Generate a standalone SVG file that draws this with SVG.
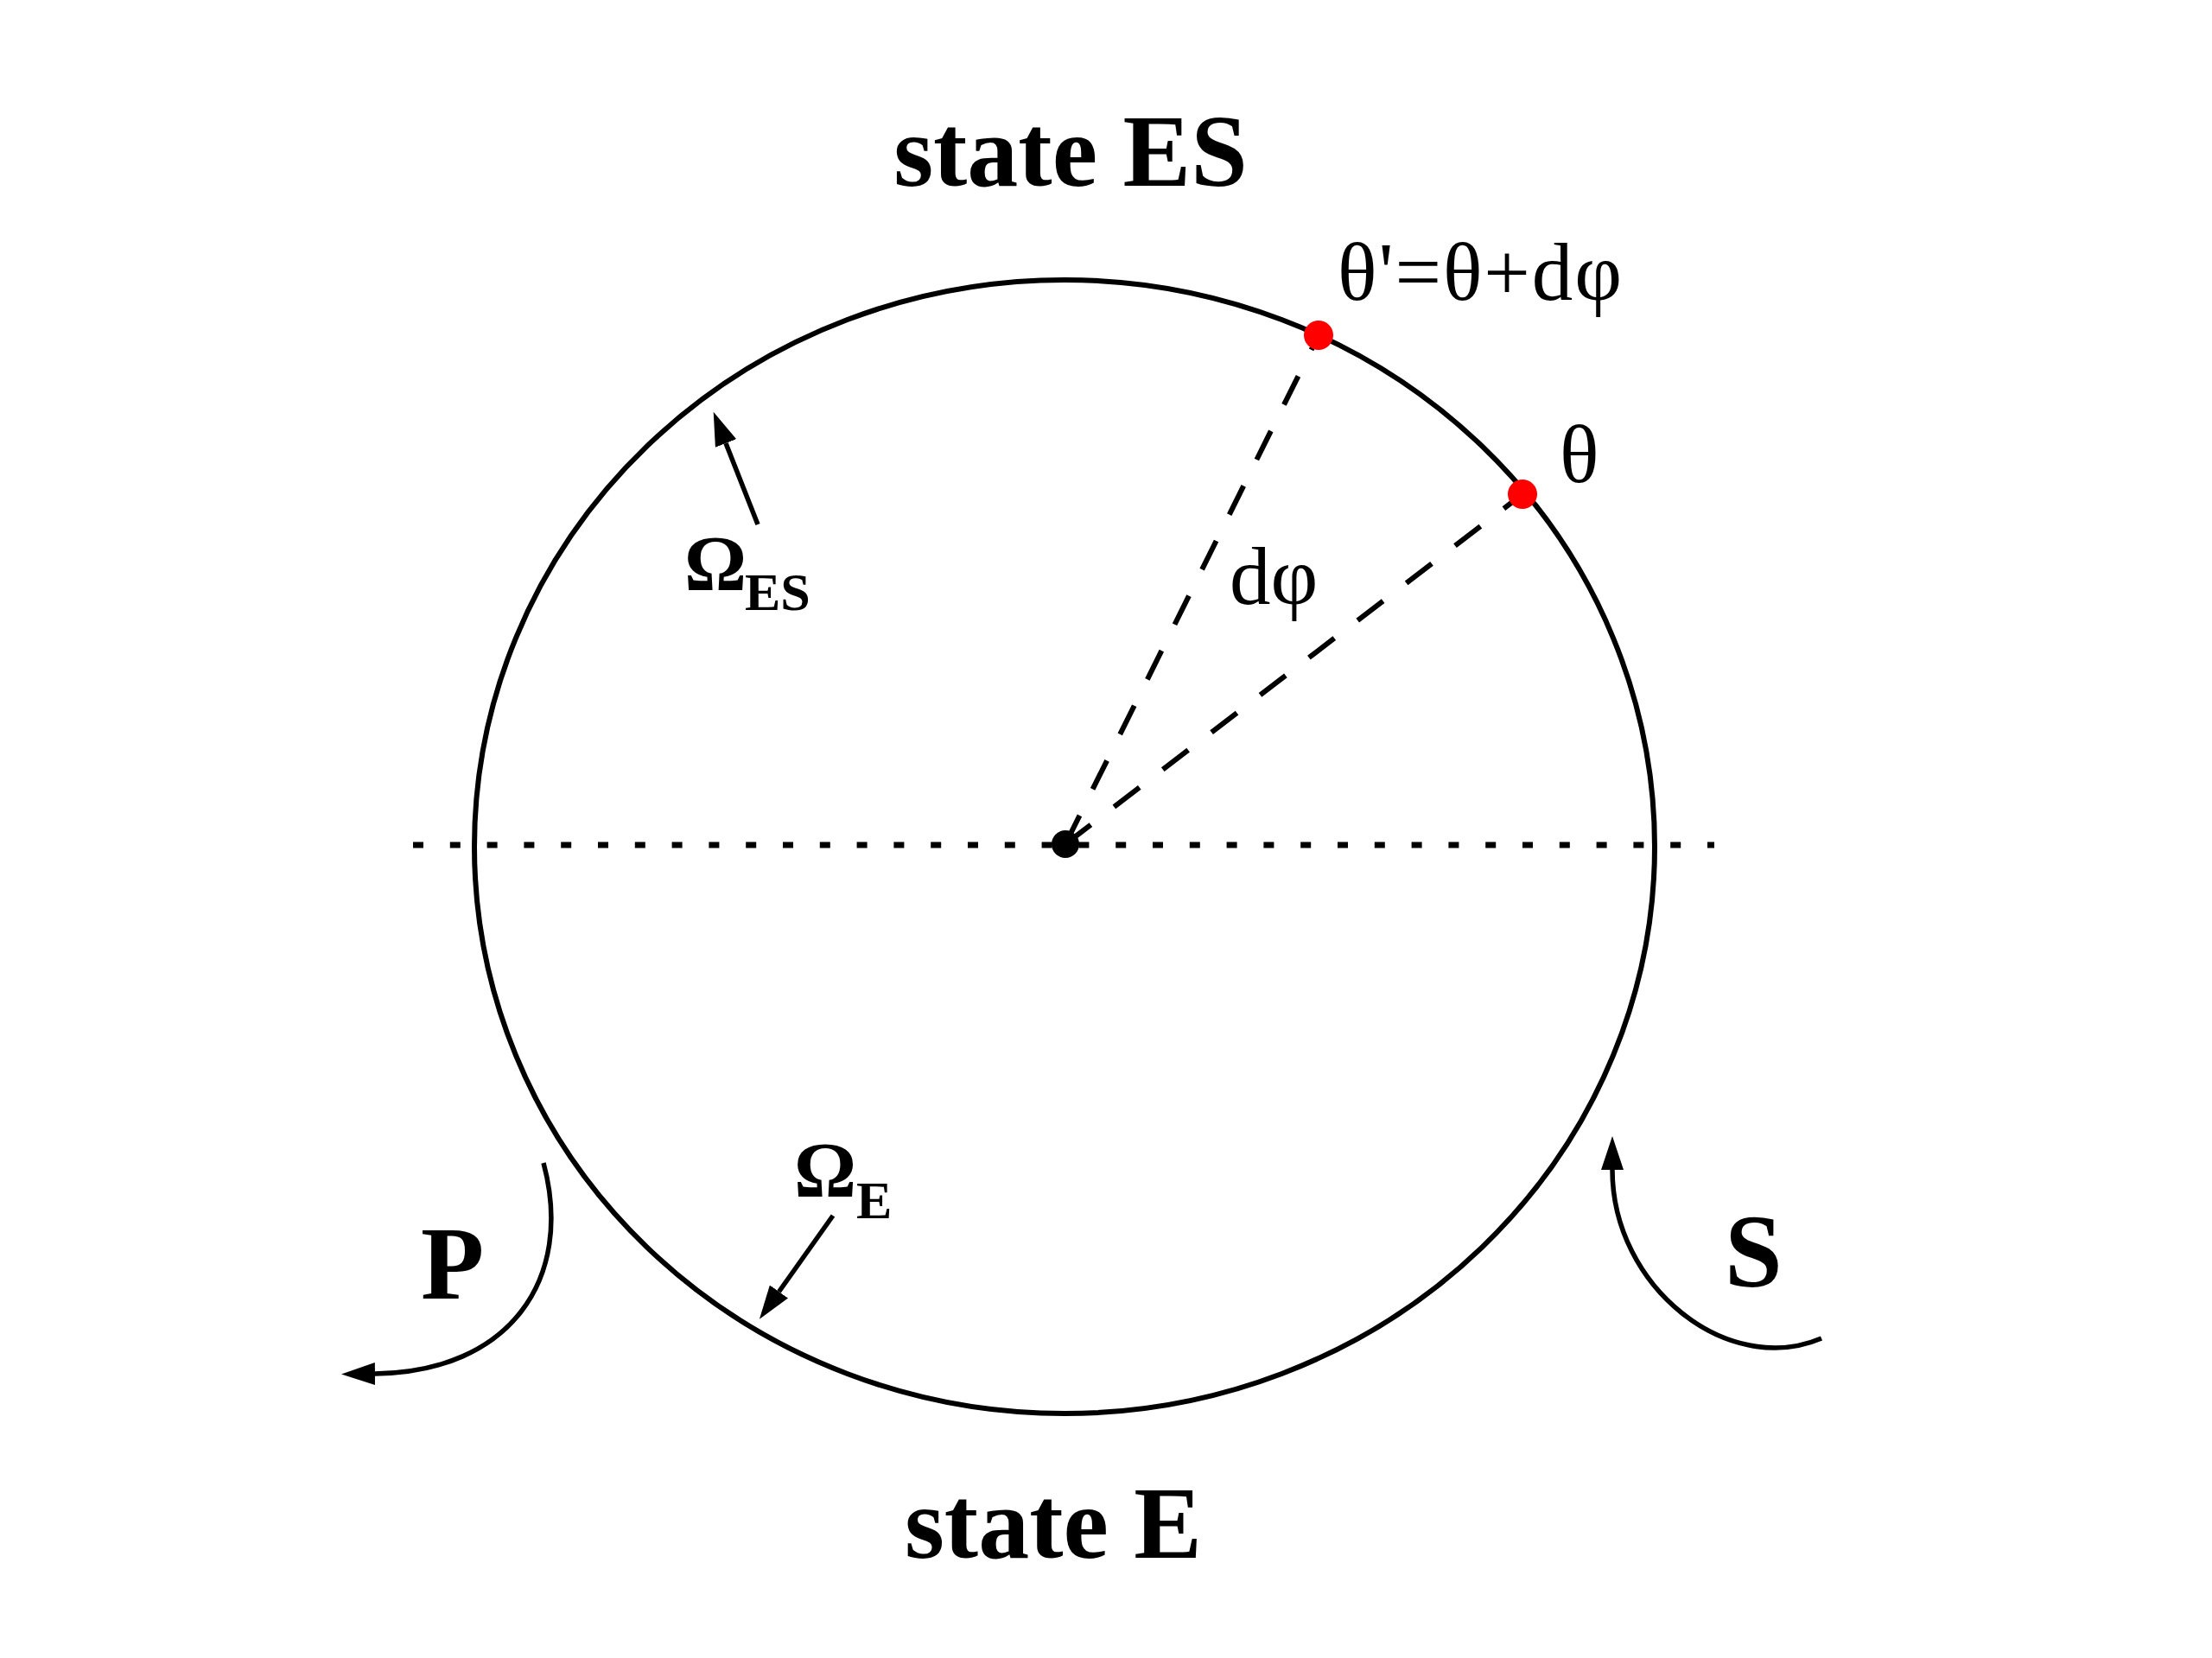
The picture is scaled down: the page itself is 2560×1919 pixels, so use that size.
<svg xmlns="http://www.w3.org/2000/svg" width="2560" height="1919" viewBox="0 0 2560 1919">
<style>
.t{font-family:"Liberation Serif","Times New Roman",serif;fill:#000}
.b{font-weight:bold}
.ln{fill:none;stroke:#000;stroke-width:5.5}
.dash{fill:none;stroke:#000;stroke-width:6;stroke-dasharray:37 34}
.red{fill:#ff0000}
</style>
<defs>
<marker id="ah" markerUnits="userSpaceOnUse" viewBox="0 -13 40 26" markerWidth="40" markerHeight="26" refX="0" refY="0" orient="auto">
<path d="M0,-13 L39,0 L0,13 Z" fill="#000"/>
</marker>
</defs>
<rect width="2560" height="1919" fill="#fff"/>
<g id="cycle">
<ellipse cx="1232" cy="980" rx="683" ry="656" fill="none" stroke="#000" stroke-width="6"/>
</g>
<g id="connectors">
<line x1="478" y1="978" x2="1984" y2="978" stroke="#000" stroke-width="7" stroke-dasharray="12 30.8"/>
<line class="dash" x1="1233" y1="977" x2="1526" y2="388"/>
<line class="dash" x1="1233" y1="977" x2="1762" y2="572"/>
<line class="ln" x1="877" y1="607" x2="840" y2="513" marker-end="url(#ah)"/>
<line class="ln" x1="964" y1="1407" x2="901.5" y2="1495" marker-end="url(#ah)"/>
<path class="ln" d="M629,1346 C665,1480 590,1588 434,1590" marker-end="url(#ah)"/>
<path class="ln" d="M2108,1549 C2000,1595 1866,1490 1866,1354" marker-end="url(#ah)"/>
</g>
<g id="center">
<circle cx="1233" cy="977" r="16" fill="#000"/>
</g>
<g id="theta-prime">
<circle class="red" cx="1526" cy="388" r="17"/>
<text class="t" x="1548" y="347" font-size="95" textLength="329" lengthAdjust="spacing">θ'=θ+dφ</text>
</g>
<g id="theta">
<circle class="red" cx="1762" cy="572" r="17"/>
<text class="t" x="1805" y="558" font-size="95">θ</text>
</g>
<g id="dphi">
<text class="t" x="1423" y="699" font-size="95">dφ</text>
</g>
<g id="state-ES">
<text class="t b" x="1239" y="215" font-size="118" text-anchor="middle">state ES</text>
</g>
<g id="state-E">
<text class="t b" x="1219" y="1803" font-size="118" text-anchor="middle">state E</text>
</g>
<g id="omega-ES">
<text class="t b" x="792" y="683" font-size="90">Ω</text>
<text class="t b" x="862" y="706" font-size="62">ES</text>
</g>
<g id="omega-E">
<text class="t b" x="919" y="1385" font-size="90">Ω</text>
<text class="t b" x="991" y="1410" font-size="62">E</text>
</g>
<g id="P">
<text class="t b" x="487" y="1503" font-size="120">P</text>
</g>
<g id="S">
<text class="t b" x="1996" y="1489" font-size="120">S</text>
</g>
</svg>
